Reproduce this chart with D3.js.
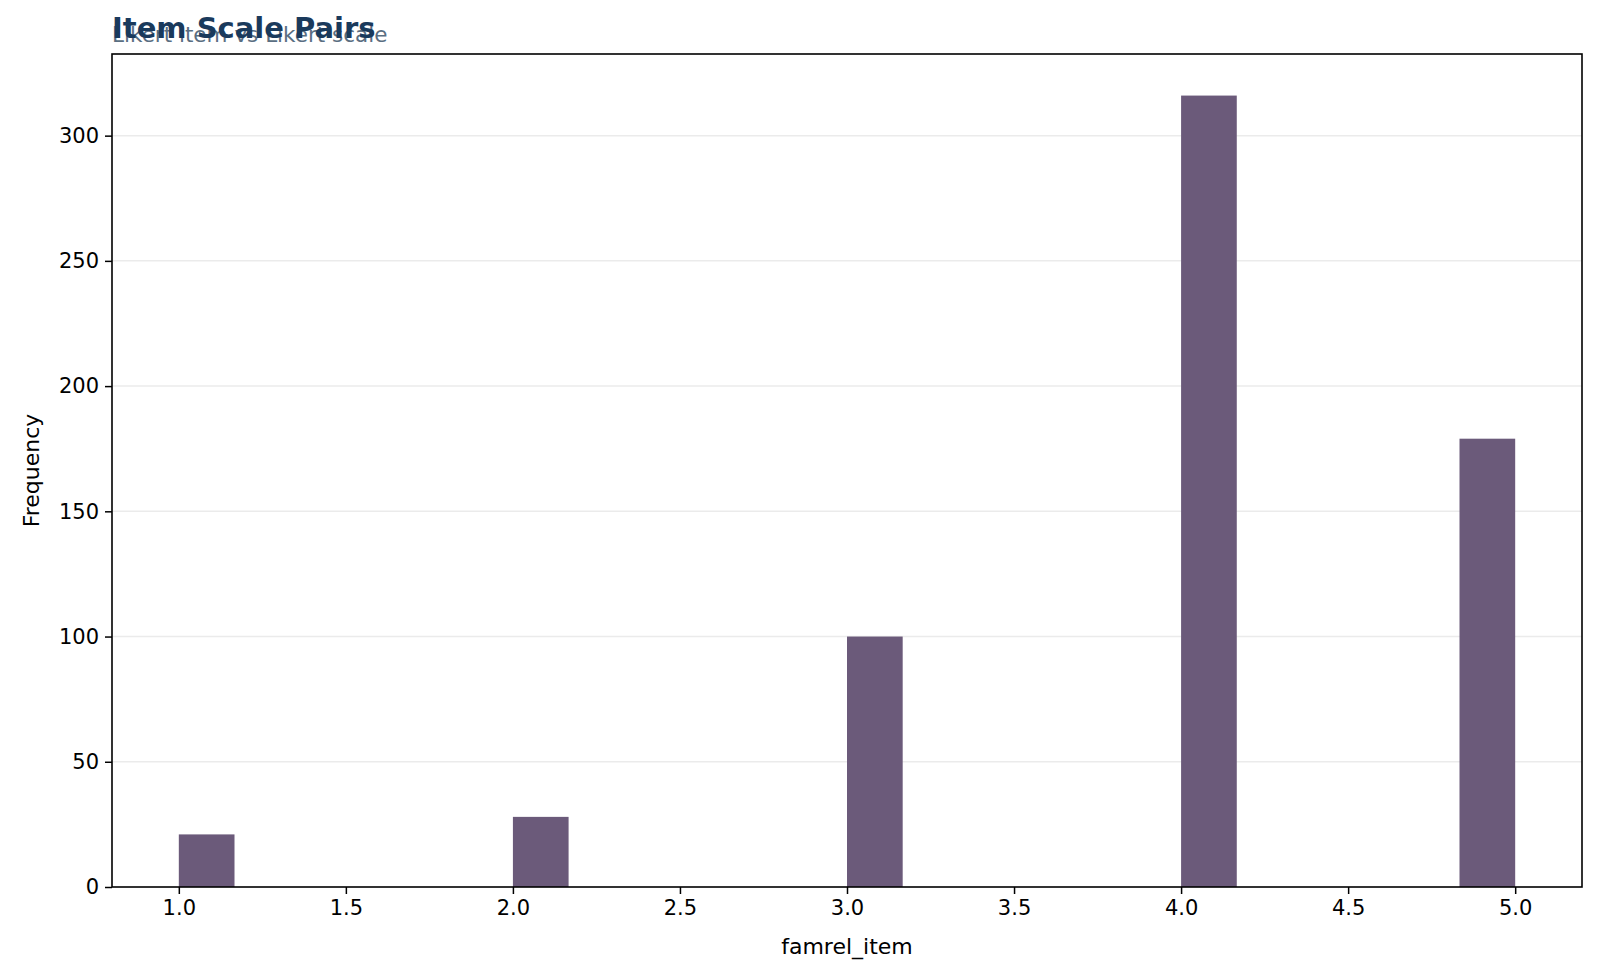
<!DOCTYPE html>
<html>
<head>
<meta charset="utf-8">
<script src="https://cdn.jsdelivr.net/npm/d3@7"></script>
<style>
  body { margin: 0; background: #fff; }
  text { font-family: "DejaVu Sans", sans-serif; }
</style>
</head>
<body>
<div id="chart"></div>
<script>
// histogram of famrel_item, 24 bins from 1 to 5
const binWidth = 4 / 24;
const binStarts = [1, 2, 3, 4, 5 - 4 / 24];
const counts = [21, 28, 100, 316, 179];
const xTicks = [1.0, 1.5, 2.0, 2.5, 3.0, 3.5, 4.0, 4.5, 5.0];
const yTicks = [0, 50, 100, 150, 200, 250, 300];

const margin = {top: 54, right: 18, bottom: 91, left: 112};
const width = 1600 - margin.left - margin.right;
const height = 978 - margin.top - margin.bottom;

const svg = d3.select("#chart").append("svg")
    .attr("width", 1600).attr("height", 978);
const g = svg.append("g").attr("transform", `translate(${margin.left},${margin.top})`);

const x = d3.scaleLinear().domain([0.8, 5.2]).range([0, width]);
const y = d3.scaleLinear().domain([0, 332.6]).range([height, 0]);

// grid
g.selectAll(".grid").data(yTicks.slice(1)).enter().append("line")
    .attr("x1", 0).attr("x2", width)
    .attr("y1", d => y(d)).attr("y2", d => y(d))
    .attr("stroke", "#ebebeb").attr("stroke-width", 1.5);

g.selectAll(".bar").data(binStarts).enter().append("rect")
    .attr("x", d => x(d))
    .attr("width", x(binWidth) - x(0))
    .attr("y", (d, i) => y(counts[i]))
    .attr("height", (d, i) => y(0) - y(counts[i]))
    .attr("fill", "#6b5a7a");

const xAxis = g.append("g").attr("transform", `translate(0,${height})`)
    .call(d3.axisBottom(x).tickValues(xTicks).tickFormat(d3.format(".1f")).tickSize(7).tickPadding(6));
const yAxis = g.append("g")
    .call(d3.axisLeft(y).tickValues(yTicks).tickSize(7).tickPadding(6));
[xAxis, yAxis].forEach(a => {
    a.selectAll("text").style("font-size", "21px").attr("fill", "#000");
    a.select(".domain").remove();
    a.selectAll("line").attr("stroke", "#000").attr("stroke-width", 1.5);
});

g.append("rect").attr("width", width).attr("height", height)
    .attr("fill", "none").attr("stroke", "#000").attr("stroke-width", 1.6);

g.append("text").attr("x", width / 2).attr("y", height + 67)
    .attr("text-anchor", "middle").style("font-size", "22px").text("famrel_item");
g.append("text").attr("transform", "rotate(-90)")
    .attr("x", -height / 2).attr("y", -81).attr("dy", "0.35em")
    .attr("text-anchor", "middle").style("font-size", "22px").text("Frequency");

svg.append("text").attr("x", 112).attr("y", 42)
    .style("font-size", "21.5px").attr("fill", "#5a6e82").text("Likert item vs Likert scale");
svg.append("text").attr("x", 112).attr("y", 38)
    .style("font-size", "29px").style("font-weight", "bold").attr("fill", "#1a3a5c").text("Item Scale Pairs");
</script>
</body>
</html>
